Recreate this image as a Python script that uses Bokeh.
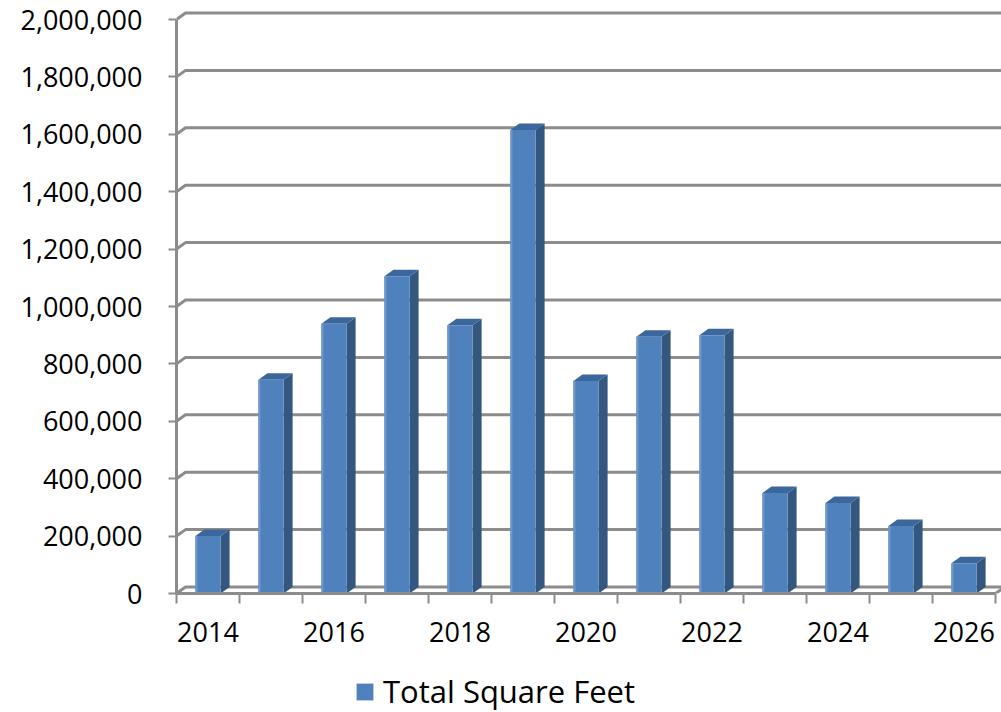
from bokeh.plotting import figure
from bokeh.layouts import column
from bokeh.models import (FixedTicker, NumeralTickFormatter, Range1d, Legend, LegendItem,
                          ColumnDataSource)
from bokeh.embed import file_html
from bokeh.resources import INLINE

# ---------------- data ----------------
years = [2014, 2015, 2016, 2017, 2018, 2019, 2020, 2021, 2022, 2023, 2024, 2025, 2026]
total_sq_ft = [200000, 745000, 940000, 1105000, 935000, 1615000, 740000,
               895000, 900000, 350000, 315000, 235000, 105000]
y_ticks = [0, 200000, 400000, 600000, 800000, 1000000, 1200000,
           1400000, 1600000, 1800000, 2000000]
x_label_years = [2014, 2016, 2018, 2020, 2022, 2024, 2026]
series_name = "Total Square Feet"

# ---------------- geometry / style ----------------
FONT = "Open Sans"
FRONT = "#4F81BD"
SIDE = "#34577F"
TOP = "#3C679C"
HIGHLIGHT = "#7098CC"
GRID = "#8C8C8C"

W, H_MAIN, H_LEG = 1001, 662, 50
FRAME_LEFT, FRAME_TOP, FRAME_BOTTOM = 176, 10, 593   # figure px
PX_PER_CAT = 63.0
PX_PER_VAL = 574.0 / 2000000.0
DX_PX, DY_PX = 9.0, 6.5
HALF_W = 12.6 / PX_PER_CAT

frame_w = W - FRAME_LEFT
frame_h = FRAME_BOTTOM - FRAME_TOP
dx = DX_PX / PX_PER_CAT
dy = DY_PX / PX_PER_VAL
n = len(years)

p = figure(width=W, height=H_MAIN, output_backend="svg", toolbar_location=None,
           x_range=Range1d(0, frame_w / PX_PER_CAT),
           y_range=Range1d(0, frame_h / PX_PER_VAL),
           min_border_left=FRAME_LEFT, min_border_right=0,
           min_border_top=FRAME_TOP, min_border_bottom=H_MAIN - FRAME_BOTTOM)
p.outline_line_color = None
p.grid.visible = False
p.background_fill_color = "white"
p.border_fill_color = "white"

# back-wall gridlines + left wall diagonals + floor
gx, gy = [], []
for t in y_ticks:
    gx.append([0, dx, n + dx + 1])
    gy.append([t, t + dy, t + dy])
p.multi_line(gx, gy, line_color=GRID, line_width=3)
p.line([n, n + dx], [0, dy], line_color=GRID, line_width=3)

# bars (pseudo-3D)
centers = [i + 0.5 for i in range(n)]
side_xs, side_ys, top_xs, top_ys = [], [], [], []
for c, v in zip(centers, total_sq_ft):
    side_xs.append([c + HALF_W, c + HALF_W + dx, c + HALF_W + dx, c + HALF_W])
    side_ys.append([0, dy, v + dy, v])
    top_xs.append([c - HALF_W, c - HALF_W + dx, c + HALF_W + dx, c + HALF_W])
    top_ys.append([v, v + dy, v + dy, v])
p.patches(side_xs, side_ys, fill_color=SIDE, line_color=None)
p.patches(top_xs, top_ys, fill_color=TOP, line_color=None)
src = ColumnDataSource(dict(x=centers, top=total_sq_ft))
p.vbar(x="x", top="top", width=2 * HALF_W, source=src,
       fill_color=FRONT, line_color=None)
p.vbar(x=[c - HALF_W + 1.0 / PX_PER_CAT for c in centers], top=total_sq_ft,
       width=2.0 / PX_PER_CAT, fill_color=HIGHLIGHT, line_color=None)

# axes
ya = p.yaxis[0]
ya.ticker = FixedTicker(ticks=y_ticks, minor_ticks=[])
ya.formatter = NumeralTickFormatter(format="0,0")
ya.bounds = (0, 2000000)
ya.axis_line_color = GRID
ya.axis_line_width = 3
ya.major_tick_line_color = GRID
ya.major_tick_line_width = 2
ya.major_tick_out = 8
ya.major_tick_in = 0
ya.major_label_standoff = 26
ya.major_label_text_font = FONT
ya.major_label_text_font_size = "27px"
ya.major_label_text_color = "black"

xa = p.xaxis[0]
label_pos = [years.index(y) + 0.5 for y in x_label_years]
xa.ticker = FixedTicker(ticks=label_pos, minor_ticks=list(range(n + 1)))
xa.major_label_overrides = {pos: str(y) for pos, y in zip(label_pos, x_label_years)}
xa.bounds = (0, n)
xa.axis_line_color = GRID
xa.axis_line_width = 3
xa.major_tick_out = 0
xa.major_tick_in = 0
xa.major_tick_line_color = None
xa.minor_tick_out = 10
xa.minor_tick_in = 0
xa.minor_tick_line_color = GRID
xa.minor_tick_line_width = 2
xa.major_label_standoff = 18
xa.major_label_text_font = FONT
xa.major_label_text_font_size = "27px"
xa.major_label_text_color = "black"

# legend strip below the chart (its frame is aligned with the chart's frame)
p2 = figure(width=W, height=H_LEG, output_backend="svg", toolbar_location=None,
            x_range=Range1d(-3, -2), y_range=Range1d(0, 1),
            min_border_left=0, min_border_right=0, min_border_top=0, min_border_bottom=0)
p2.axis.visible = False
p2.grid.visible = False
p2.outline_line_color = None
proxy = p2.vbar(x="x", top="top", width=2 * HALF_W, source=src,
                fill_color=FRONT, line_color=None)
legend = Legend(items=[LegendItem(label=series_name, renderers=[proxy])],
                location=(178, 0), orientation="horizontal",
                border_line_color=None, background_fill_alpha=0,
                label_text_font=FONT, label_text_font_size="31px",
                label_text_color="black", glyph_width=21, glyph_height=21,
                label_standoff=8, padding=0, margin=0, spacing=0)
p2.add_layout(legend, "center")

layout = column(p, p2, spacing=0)
open("out.html", "w").write(file_html(layout, INLINE))
